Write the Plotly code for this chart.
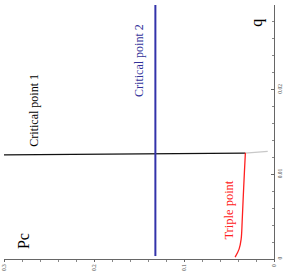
import plotly.graph_objects as go

# Data (original plot: q on horizontal, Pc on vertical; shown rotated 90° CCW)
cp1_q = [0.01231, 0.0125]
cp1_pc = [0.30, 0.032]
cp1_ext_q = [0.0125, 0.0127]
cp1_ext_pc = [0.032, 0.007]
cp2_q = [0.00035, 0.0300]
cp2_pc = [0.1318, 0.1318]
tp_q = [0.00023, 0.00117, 0.00234, 0.00434, 0.00703, 0.0102, 0.01254]
tp_pc = [0.0432, 0.0388, 0.0365, 0.0354, 0.0343, 0.0329, 0.0318]

pc_ticks = [0, 0.1, 0.2, 0.3]
pc_labels = ["0", "0.1", "0.2", "0.3"]
q_ticks = [0, 0.01, 0.02, 0.03]
q_labels = ["0", "0.01", "0.02", "0.03"]

font = "Liberation Serif, Times New Roman, serif"

fig = go.Figure()
# rotated: horizontal axis = Pc (reversed), vertical axis = q
fig.add_trace(go.Scatter(x=cp1_pc, y=cp1_q, mode="lines",
                         line=dict(color="#111111", width=1.2), showlegend=False))
fig.add_trace(go.Scatter(x=cp1_ext_pc, y=cp1_ext_q, mode="lines",
                         line=dict(color="#c8c8c8", width=1.2), showlegend=False))
fig.add_trace(go.Scatter(x=cp2_pc, y=cp2_q, mode="lines",
                         line=dict(color="#3333aa", width=2), showlegend=False))
fig.add_trace(go.Scatter(x=tp_pc, y=tp_q, mode="lines", line_shape="spline",
                         line=dict(color="#ff2020", width=1.3), showlegend=False))

ann = [
    dict(x=0.267, y=0.0176, text="Critical point 1", color="black", size=12),
    dict(x=0.1495, y=0.02345, text="Critical point 2", color="#33339a", size=12),
    dict(x=0.0498, y=0.00574, text="Triple point", color="#ff2020", size=12.5),
    dict(x=0.279, y=0.0021, text="Pc", color="black", size=16),
    dict(x=0.0188, y=0.0279, text="q", color="black", size=16),
]
for a in ann:
    fig.add_annotation(x=a["x"], y=a["y"], text=a["text"], showarrow=False,
                       textangle=-90, font=dict(family=font, size=a["size"], color=a["color"]),
                       xanchor="center", yanchor="middle")

fig.update_layout(
    width=283, height=271,
    margin=dict(l=4, r=9, t=5, b=12),
    paper_bgcolor="white", plot_bgcolor="white",
    font=dict(family=font, size=5.5, color="#444444"),
    xaxis=dict(range=[0.3, 0], tickvals=pc_ticks, ticktext=pc_labels, tickangle=-90,
               automargin=False,
               showgrid=False, zeroline=False, showline=True, linecolor="#666666", linewidth=1,
               ticks="outside", ticklen=2, tickcolor="#666666",
               minor=dict(dtick=0.02, ticks="outside", ticklen=1.5, tickcolor="#888888"),
               tickfont=dict(size=5.5)),
    yaxis=dict(range=[0, 0.03], side="right", tickvals=q_ticks, ticktext=q_labels, tickangle=-90,
               automargin=False,
               showgrid=False, zeroline=False, showline=True, linecolor="#666666", linewidth=1,
               ticks="inside", ticklen=3, tickcolor="#666666",
               minor=dict(dtick=0.002, ticks="inside", ticklen=2, tickcolor="#888888"),
               tickfont=dict(size=5.5)),
)

fig.write_html("out.html", config={"displayModeBar": False},
               post_script="document.body.style.margin='0';document.body.style.padding='0';document.body.style.overflow='hidden';")
